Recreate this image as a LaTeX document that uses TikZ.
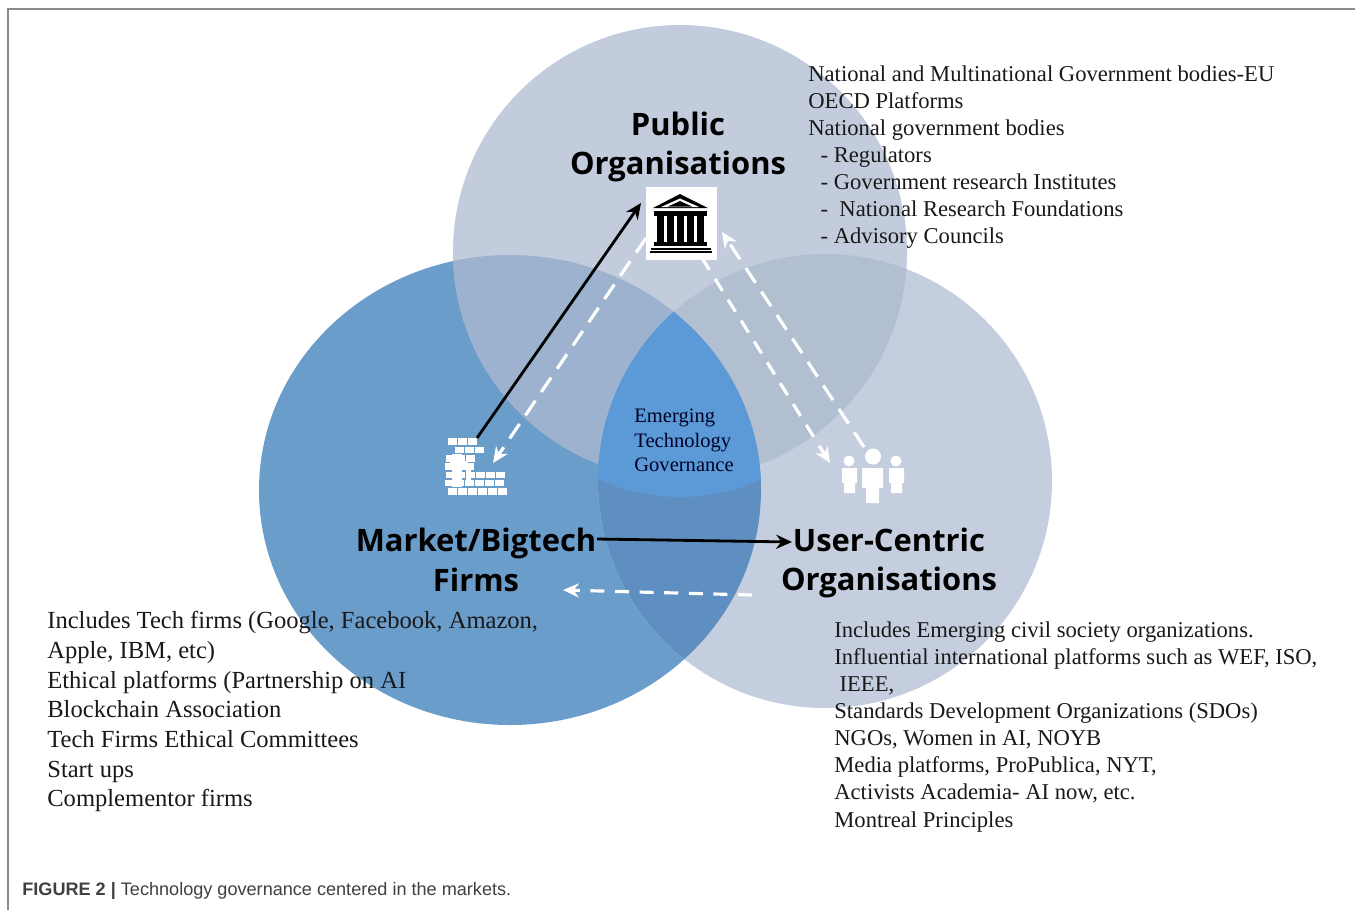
\documentclass[tikz,border=0pt]{standalone}
\usepackage{fontspec}
\setmainfont{Liberation Serif}
\newfontfamily\headfont{Open Sans}
\newfontfamily\capfont{Liberation Sans}
\usetikzlibrary{arrows.meta}
\definecolor{pubcol}{HTML}{C3CCDC}
\definecolor{marcol}{HTML}{6B9DCB}
\definecolor{usecol}{HTML}{C5CEDE}
\definecolor{pubmar}{HTML}{9CB2CF}
\definecolor{pubuse}{HTML}{B2BFD1}
\definecolor{maruse}{HTML}{5F8FC0}
\definecolor{midcol}{HTML}{5B9AD6}
\definecolor{framecol}{HTML}{8A8A8A}
\newcommand{\pubcirc}{(680,252) circle [radius=227]}
\newcommand{\marcirc}{(510,490) ellipse [x radius=251,y radius=235]}
\newcommand{\usecirc}{(825,481) circle [radius=227]}
\newcommand{\midblob}{(680,260) ellipse [x radius=215,y radius=237]}
\tikzset{
  headlabel/.style={font=\headfont\bfseries\fontsize{17.6}{22.4}\selectfont,align=center,inner sep=0pt},
  listtext/.style={anchor=north west,align=left,inner sep=0pt,font=\fontsize{12.87}{15.45}\selectfont,text=black!90},
  blackarrow/.style={-{Stealth[length=9pt,width=8pt]},line width=1.6pt,black},
  whitearrow/.style={-{Stealth[length=9pt,width=8pt]},line width=1.8pt,white,dash pattern=on 10pt off 6pt},
  brick/.style={fill=white}
}
\begin{document}
\begin{tikzpicture}[x=0.02cm,y=-0.02cm]
 \useasboundingbox (0,0) rectangle (1355,910);
 \fill[white] (0,0) rectangle (1355,910);
 \draw[framecol,line width=0.6pt] (8,910)--(8,9)--(1355,9);

 \fill[marcol] \marcirc;
 \fill[pubcol] \pubcirc;
 \fill[usecol] \usecirc;
 \begin{scope}
  \clip \pubcirc;
  \fill[pubmar] \marcirc;
  \fill[pubuse] \usecirc;
 \end{scope}
 \begin{scope}
  \clip \marcirc;
  \fill[maruse] \usecirc;
  \clip \usecirc;
  \fill[midcol] \midblob;
 \end{scope}

 \node[fill=white,inner sep=0pt,minimum width=1.42cm,minimum height=1.46cm] (bank) at (681,223.5) {};
 \fill[black] (680,194)--(708,208)--(653,208)--cycle;
 \fill[white] (680,198.5)--(699,207)--(661,207)--cycle;
 \fill[black] (680,201)--(692,206.5)--(668,206.5)--cycle;
 \fill[black] (654,211) rectangle (707,215.5);
 \foreach \cx in {657,667,677,687,697}
  \fill[black] (\cx,216) rectangle (\cx+7,242);
 \fill[black] (654,242) rectangle (707,246);
 \fill[black] (651,247.5) rectangle (711,249.5);
 \fill[black] (650,250.5) rectangle (712,252.5);

 \node[inner sep=0pt,minimum width=1.24cm,minimum height=1.14cm] (factory) at (476,466.5) {};
 \foreach \ry/\rx/\rn in {438/448/3,446.5/455/3,455/446/3,463/445/3,471.5/446/6,479.5/445/6,488/448/6}
  \foreach \k in {1,...,\rn}
   \fill[brick] (\rx+\k*10-10,\ry) rectangle ++(8.8,6.8);
 \fill[brick] (450,461) rectangle (468,470);
 \fill[brick] (452,454) rectangle (462,487);
 \fill[brick] (466,470) rectangle (471,486);

 \node[inner sep=0pt,minimum width=1.28cm,minimum height=1.04cm] (users) at (873,476) {};
 \fill[white] (849,461) circle [radius=5.5];
 \fill[white] (873,456.5) circle [radius=8];
 \fill[white] (896,461) circle [radius=5.5];
 \fill[white] (842,468)--(857,468)--(857,483)--(855,483)--(855,493)--(844,493)--(844,483)--(842,483)--cycle;
 \fill[white] (862,468)--(883,468)--(883,488)--(879,488)--(879,503)--(866,503)--(866,488)--(862,488)--cycle;
 \fill[white] (889,468)--(904,468)--(904,483)--(902,483)--(902,493)--(891,493)--(891,483)--(889,483)--cycle;

 \node[headlabel] (pubname) at (678,147) {Public\\Organisations};
 \node[headlabel] (marname) at (476,560) {Market/Bigtech\\Firms};
 \node[headlabel] (usename) at (889,563) {User-Centric\\Organisations};

 \node[anchor=north west,align=left,inner sep=0pt,text=black!85!blue,font=\fontsize{11.7}{13.9}\selectfont] (midname) at (634,409) {Emerging\\Technology\\Governance};

 \node[listtext] (publist) at (808,65) {National and Multinational Government bodies-EU\\OECD Platforms\\National government bodies\\\hspace*{7pt}- Regulators\\\hspace*{7pt}- Government research Institutes\\\hspace*{7pt}-\ \ National Research Foundations\\\hspace*{7pt}- Advisory Councils};
 \node[listtext,font=\fontsize{13.98}{16.9}\selectfont] (marlist) at (47,611) {Includes Tech firms (Google, Facebook, Amazon,\\Apple, IBM, etc)\\Ethical platforms (Partnership on AI\\Blockchain Association\\Tech Firms Ethical Committees\\Start ups\\Complementor firms};
 \node[listtext] (uselist) at (834,621) {Includes Emerging civil society organizations.\\Influential international platforms such as WEF, ISO,\\\hspace*{3pt}IEEE,\\Standards Development Organizations (SDOs)\\NGOs, Women in AI, NOYB\\Media platforms, ProPublica, NYT,\\Activists Academia- AI now, etc.\\Montreal Principles};

 \node[anchor=base west,inner sep=0pt,text=black!75,font=\capfont\fontsize{10.3}{13}\selectfont] (caption) at (22,895) {\textbf{FIGURE 2 |} Technology governance centered in the markets.};

 \coordinate (factoryout) at (477,438);
 \coordinate (bankin) at (641,203);
 \coordinate (bankout) at (646,238);
 \coordinate (factoryin) at (493,463);
 \coordinate (bankdown) at (702,258);
 \coordinate (usersin) at (830,463);
 \coordinate (usersout) at (864,447);
 \coordinate (bankback) at (722,232);
 \coordinate (marout) at (597,539);
 \coordinate (usein) at (792,542);
 \coordinate (useout) at (752,595);
 \coordinate (marin) at (563,590);
 \draw[blackarrow] (factoryout)--(bankin);
 \draw[whitearrow] (bankout)--(factoryin);
 \draw[whitearrow,dash pattern=on 8pt off 6pt] (bankdown)--(usersin);
 \draw[whitearrow] (usersout)--(bankback);
 \draw[blackarrow] (marout)--(usein);
 \draw[whitearrow,dash pattern=on 8pt off 6pt] (useout)--(marin);
\end{tikzpicture}
\end{document}
